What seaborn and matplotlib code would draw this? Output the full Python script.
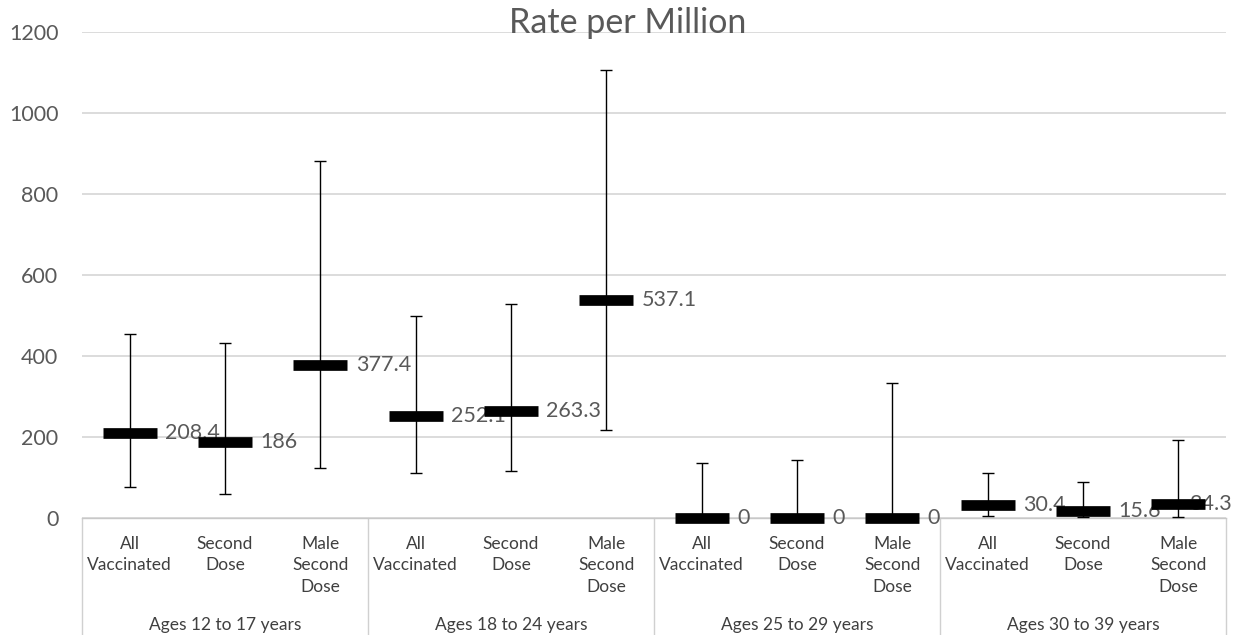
import numpy as np
import pandas as pd
import matplotlib
matplotlib.use("Agg")
import matplotlib.pyplot as plt
import matplotlib.transforms as mtransforms
import seaborn as sns

# ---- data ----
groups = ["Ages 12 to 17 years", "Ages 18 to 24 years",
          "Ages 25 to 29 years", "Ages 30 to 39 years"]
measures = ["All Vaccinated", "Second Dose", "Male Second Dose"]
measure_labels = ["All\nVaccinated", "Second\nDose", "Male\nSecond\nDose"]
rates = [208.4, 186, 377.4, 252.1, 263.3, 537.1, 0, 0, 0, 30.4, 15.6, 34.3]
ci_low = [75, 59, 122, 110, 116, 217, 0, 0, 0, 4, 1, 1]
ci_high = [453, 433, 883, 498, 528, 1107, 136, 142, 332, 110, 88, 192]
yticks = [0, 200, 400, 600, 800, 1000, 1200]
title = "Rate per Million"

df = pd.DataFrame({
    "group": np.repeat(groups, len(measures)),
    "measure": measures * len(groups),
    "label": measure_labels * len(groups),
    "rate": rates,
    "low": ci_low,
    "high": ci_high,
})
df["key"] = df["group"] + "|" + df["measure"]

sns.set_theme(style="white")
plt.rcParams['font.family'] = ['Lato', 'DejaVu Sans']

W, H = 1241, 635
fig = plt.figure(figsize=(W / 100, H / 100), dpi=100)
L, R = 82 / W, 1226 / W
B, T = 1 - 517.7 / H, 1 - 32.3 / H
ax = fig.add_axes([L, B, R - L, T - B])

GRID = "#D9D9D9"
TXT = "#595959"
CAT = "#404040"

order = list(df["key"])
sns.pointplot(data=df, x="key", y="rate", order=order, errorbar=None,
              linestyles="none", markers="_", color="black",
              markersize=54 * 0.72, markeredgewidth=10.7 * 0.72,
              zorder=4, ax=ax)
for ln in ax.lines:
    ln.set_clip_on(False)

xs = np.arange(len(df))
ax.errorbar(xs, df["rate"],
            yerr=[df["rate"] - df["low"], df["high"] - df["rate"]],
            fmt="none", ecolor="black", elinewidth=1.0, capsize=4.3,
            capthick=1.0, zorder=3, clip_on=False)

ann = []
for x, v in zip(xs, df["rate"]):
    a = ax.annotate(f"{v:g}", xy=(x, v), xytext=(25.5, 0), textcoords="offset points",
                    ha="left", va="center", fontsize=15.5, color=TXT,
                    annotation_clip=False, zorder=3.5)
    ann.append(a)

ax.set_xlim(-0.5, len(df) - 0.5)
ax.set_ylim(0, 1200)
ax.set_yticks(yticks)
ax.set_xticks([])
ax.set_xlabel("")
ax.set_ylabel("")
ax.tick_params(axis="y", length=0, pad=17, labelsize=15.5, labelcolor=TXT)

trans = mtransforms.blended_transform_factory(ax.transData, ax.transAxes)
for x, lab in zip(xs, df["label"]):
    ax.text(x, -0.037, lab, transform=trans, ha="center", va="top",
            fontsize=12.5, color=CAT, linespacing=1.42)
nm = len(measures)
for gi, g in enumerate(groups):
    ax.text(gi * nm + (nm - 1) / 2, -0.222, g, transform=trans, ha="center",
            va="center", fontsize=12.5, color=CAT)
for gi in range(len(groups) + 1):
    xb = gi * nm - 0.5
    ax.plot([xb, xb], [0, -0.3], transform=trans, color="#D0D0D0", lw=1.0,
            clip_on=False, zorder=1)

ax.yaxis.grid(True, color=GRID, lw=1.3)
ax.set_axisbelow(True)
for s in ["left", "right", "top"]:
    ax.spines[s].set_visible(False)
ax.spines["bottom"].set_color("#C8C8C8")
ax.spines["bottom"].set_linewidth(1.0)

fig.text(628 / W, 1 - 33 / H, title, ha="center", va="baseline",
         fontsize=24.5, color=TXT)

# keep data labels inside the chart area (as the original does)
fig.canvas.draw()
renderer = fig.canvas.get_renderer()
for a in ann:
    bb = a.get_window_extent(renderer)
    limit = W - 9
    if bb.x1 > limit:
        shift = (bb.x1 - limit) * 72 / fig.dpi
        a.set_position((25.5 - shift, 0))

fig.savefig("out.png", dpi=100)
